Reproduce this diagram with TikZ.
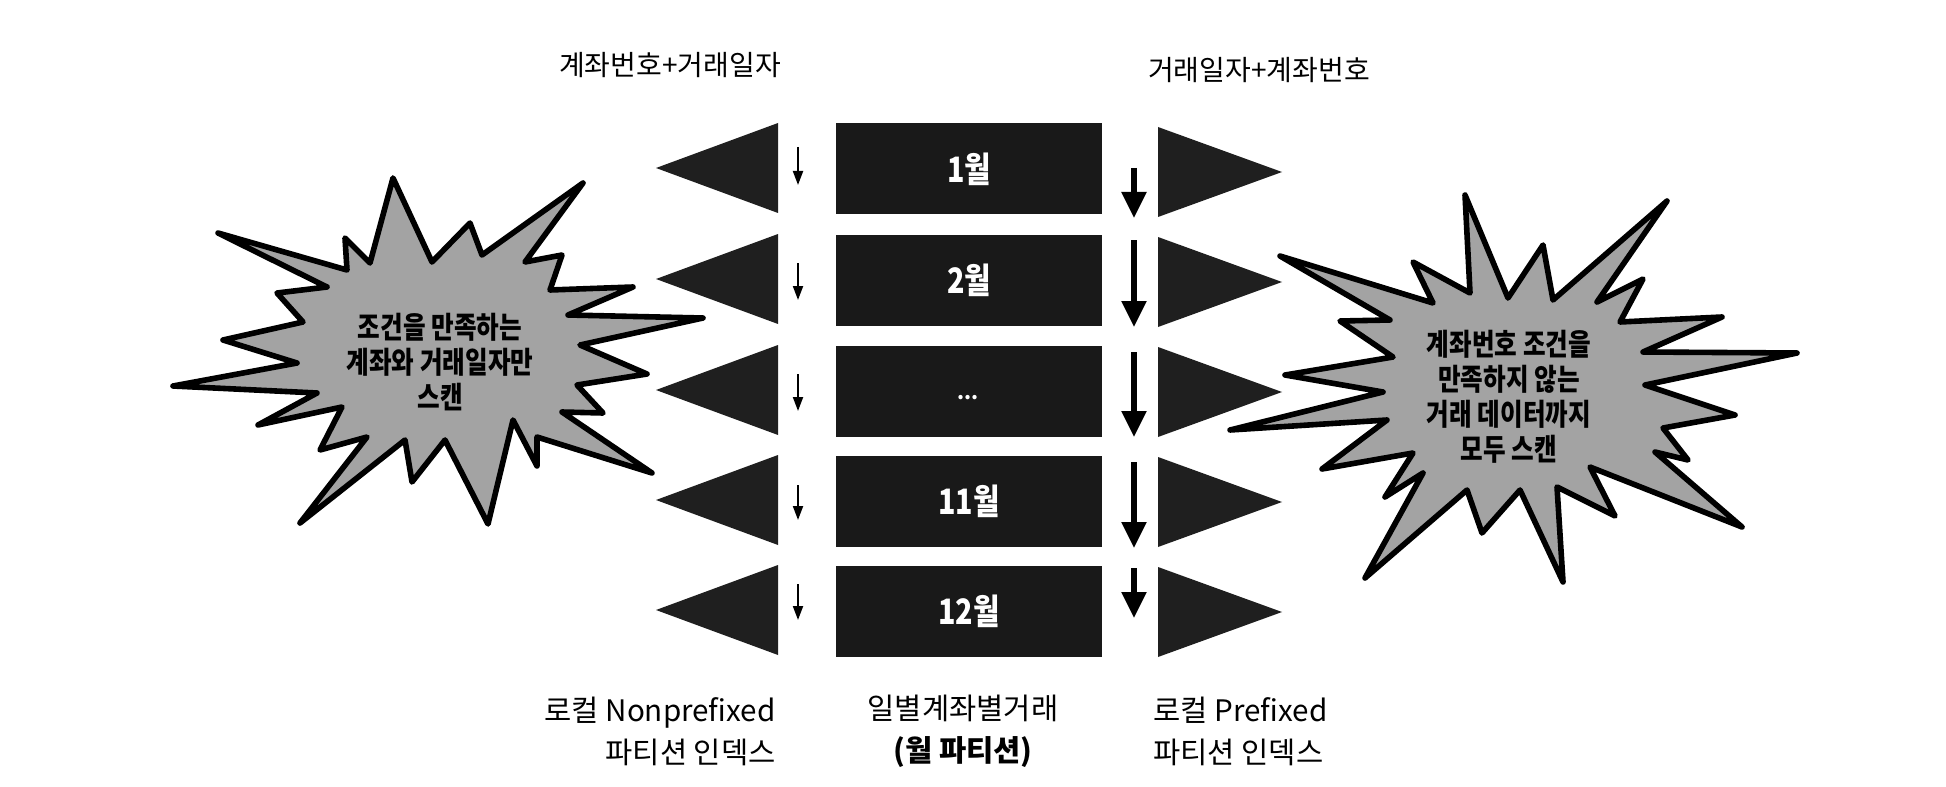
\documentclass[tikz,border=0pt]{standalone}
\usepackage{fontspec}
\setmainfont{Noto Sans CJK KR}
\newfontfamily\krcond[FakeStretch=0.82]{Noto Sans CJK KR}
\usetikzlibrary{arrows.meta}
\begin{document}
\begin{tikzpicture}[x=0.5pt,y=-0.5pt,
  monthbox/.style={fill=black!90, draw=none, minimum width=133pt, minimum height=45.5pt, inner sep=0pt,
     text=white, font=\krcond\bfseries\fontsize{17.5pt}{18pt}\selectfont},
  tri/.style={fill=black!88, draw=none},
  burst/.style={fill=black!36, draw=black, line width=2.8pt, line join=round},
  bigarrow/.style={line width=2.6pt, -{Triangle[width=12pt,length=13pt]}},
  smallarrow/.style={line width=1pt, -{Triangle[width=5pt,length=7pt]}},
  toplbl/.style={font=\fontsize{14pt}{21pt}\selectfont, inner sep=0pt},
  lbl/.style={font=\fontsize{14.8pt}{21pt}\selectfont, inner sep=0pt},
  bursttext/.style={font=\krcond\bfseries\fontsize{15pt}{17.5pt}\selectfont, align=center, inner sep=0pt}
]
\useasboundingbox (0,0) rectangle (1946,786);

% month boxes
\node[monthbox] (m1) at (969,169) {1월};
\node[monthbox] (m2) at (969,280) {2월};
\node[monthbox] (m3) at (969,391) {};
\node[text=white, font=\bfseries\fontsize{10pt}{12pt}\selectfont, inner sep=0pt] (dots) at (968,398) {...};
\node[monthbox] (m4) at (969,501) {11월};
\node[monthbox] (m5) at (969,611) {12월};

% left triangles (pointing left)
\foreach \t in {123,234,345,455,565} {
  \fill[tri] (778,\t) -- (778,\t+90) -- (656,\t+45) -- cycle;
}
% right triangles (pointing right)
\foreach \t in {127,237,347,457,567} {
  \fill[tri] (1158,\t) -- (1158,\t+90) -- (1282,\t+45) -- cycle;
}

% small arrows (left index)
\foreach \i/\a/\b in {1/147/185,2/263/300,3/374/411,4/485/520,5/584/620} {
  \coordinate (ls\i) at (798,\a);
  \coordinate (le\i) at (798,\b);
  \draw[smallarrow] (ls\i) -- (le\i);
}
% big arrows (right index)
\foreach \i/\a/\b in {1/168/218,2/240/327,3/352/437,4/462/548,5/568/618} {
  \coordinate (rs\i) at (1134,\a);
  \coordinate (re\i) at (1134,\b);
  \draw[bigarrow] (rs\i) -- (re\i);
}

% left burst
\draw[burst] (393,178) -- (432,262) -- (470,223) -- (482,255) -- (583,183) -- (525,262)
  -- (562,255) -- (550,290) -- (633,287) -- (568,315) -- (703,318) -- (580,345)
  -- (647,374) -- (577,385) -- (603,413) -- (562,412) -- (652,473) -- (537,437)
  -- (537,466) -- (513,420) -- (488,524) -- (445,440) -- (412,482) -- (405,440)
  -- (300,523) -- (367,437) -- (320,450) -- (342,407) -- (258,425) -- (317,393)
  -- (173,386) -- (297,363) -- (223,340) -- (303,322) -- (277,293) -- (327,287)
  -- (218,233) -- (347,270) -- (345,238) -- (370,263) -- cycle;
\node[bursttext] (lt) at (440,362) {조건을 만족하는\\계좌와 거래일자만\\스캔};

% right burst
\draw[burst] (1465,195) -- (1508,298) -- (1543,245) -- (1553,300) -- (1667,201) -- (1597,302)
  -- (1643,279) -- (1620,322) -- (1722,317) -- (1643,352) -- (1797,353) -- (1645,385)
  -- (1735,415) -- (1663,428) -- (1688,460) -- (1655,452) -- (1742,527) -- (1590,467)
  -- (1615,516) -- (1557,487) -- (1563,582) -- (1520,490) -- (1482,533) -- (1467,490)
  -- (1365,578) -- (1423,473) -- (1385,497) -- (1413,453) -- (1322,469) -- (1387,420)
  -- (1230,430) -- (1383,392) -- (1285,375) -- (1393,357) -- (1340,321) -- (1390,320)
  -- (1280,256) -- (1433,303) -- (1413,262) -- (1470,293) -- cycle;
\node[bursttext] (rt) at (1509,397) {계좌번호 조건을\\만족하지 않는\\거래 데이터까지\\모두 스캔};

% top labels
\node[toplbl] (tl) at (670,65) {계좌번호+거래일자};
\node[toplbl] (tr) at (1259,70) {거래일자+계좌번호};

% bottom labels
\node[lbl, align=right, anchor=east] (bl) at (776,731) {로컬 Nonprefixed\\파티션 인덱스};
\node[lbl, align=center] (bm) at (963,731) {일별계좌별거래\\{\bfseries (월 파티션)}};
\node[lbl, align=left, anchor=west] (br) at (1153,731) {로컬 Prefixed\\파티션 인덱스};
\end{tikzpicture}
\end{document}
